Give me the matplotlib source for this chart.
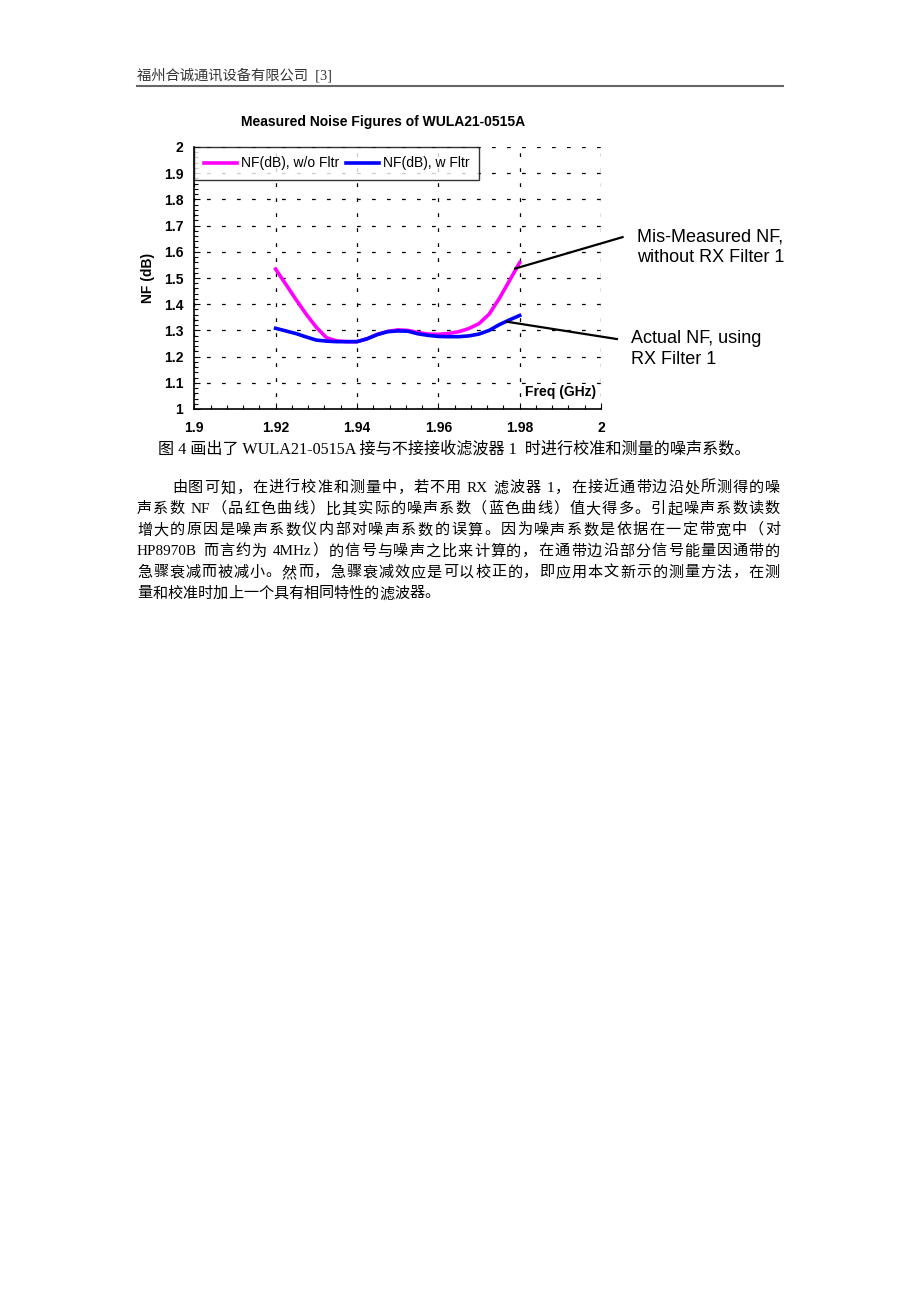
import re
import matplotlib
matplotlib.use("Agg")
import matplotlib.pyplot as plt
from matplotlib.lines import Line2D
from matplotlib.ticker import MultipleLocator

# dane
freq = [1.92, 1.9225, 1.925, 1.9275, 1.93, 1.9325, 1.935, 1.9375, 1.94, 1.9425, 1.945, 1.9475, 1.95,
        1.9525, 1.955, 1.9575, 1.96, 1.9625, 1.965, 1.9675, 1.97, 1.9725, 1.975, 1.9775, 1.98]
nf_bez_filtra = [1.534, 1.476, 1.418, 1.362, 1.312, 1.272, 1.260, 1.257, 1.257, 1.268, 1.285, 1.296, 1.302,
                 1.300, 1.292, 1.286, 1.285, 1.288, 1.295, 1.307, 1.326, 1.362, 1.422, 1.490, 1.559]
nf_z_filtrem = [1.308, 1.298, 1.288, 1.275, 1.263, 1.259, 1.257, 1.257, 1.257, 1.268, 1.284, 1.295, 1.298,
                1.297, 1.287, 1.281, 1.277, 1.276, 1.276, 1.279, 1.286, 1.300, 1.322, 1.340, 1.357]

tytul = "Measured Noise Figures of WULA21-0515A"
etykiety = ["NF(dB), w/o Fltr", "NF(dB), w Fltr"]
opis_1 = "Mis-Measured NF,\nwithout RX Filter 1"
opis_2 = "Actual NF, using\nRX Filter 1"
naglowek = "福州合诚通讯设备有限公司  [3]"
podpis = "图 4 画出了 WULA21-0515A 接与不接接收滤波器 1  时进行校准和测量的噪声系数。"
akapit = [
    "由图可知，在进行校准和测量中，若不用 RX 滤波器 1，在接近通带边沿处所测得的噪",
    "声系数 NF（品红色曲线）比其实际的噪声系数（蓝色曲线）值大得多。引起噪声系数读数",
    "增大的原因是噪声系数仪内部对噪声系数的误算。因为噪声系数是依据在一定带宽中（对",
    "HP8970B 而言约为 4MHz）的信号与噪声之比来计算的，在通带边沿部分信号能量因通带的",
    "急骤衰减而被减小。然而，急骤衰减效应是可以校正的，即应用本文新示的测量方法，在测",
    "量和校准时加上一个具有相同特性的滤波器。",
]

W, H = 920, 1302
fx = lambda px: px / W
fy = lambda py: 1 - py / H

plt.rcParams['font.family'] = ['Liberation Sans', 'DejaVu Sans']
fig = plt.figure(figsize=(9.2, 13.02), dpi=100)
fig.patch.set_facecolor('white')

ax = fig.add_axes([fx(194.3), fy(409), fx(601) - fx(194.3), fy(147) - fy(409)])
ax.plot(freq, nf_bez_filtra, color='#ff00ff', linewidth=2.6, label=etykiety[0], solid_joinstyle='round')
ax.plot(freq, nf_z_filtrem, color='#0000ff', linewidth=2.6, label=etykiety[1], solid_joinstyle='round')
ax.set_xlim(1.9, 2.0)
ax.set_ylim(1.0, 2.0)
ax.xaxis.set_minor_locator(MultipleLocator(0.004))
ax.yaxis.set_minor_locator(MultipleLocator(0.02))
ax.set_xticks([1.9, 1.92, 1.94, 1.96, 1.98, 2.0])
ax.set_xticklabels(['1.9', '1.92', '1.94', '1.96', '1.98', '2'])
ax.set_yticks([1.0 + 0.1 * i for i in range(11)])
ax.set_yticklabels(['1', '1.1', '1.2', '1.3', '1.4', '1.5', '1.6', '1.7', '1.8', '1.9', '2'])
ax.tick_params(which='both', direction='in', color='black', labelsize=10)
ax.tick_params(which='major', length=4, width=0.8)
ax.tick_params(which='minor', length=3, width=0.8)
ax.tick_params(axis='x', pad=9)
ax.tick_params(axis='y', pad=8)
for lab in ax.get_xticklabels() + ax.get_yticklabels():
    lab.set_fontweight('bold')
ax.grid(True, which='major', color='black', linewidth=0.9, linestyle=(2, (3, 9)))
for s in ['top', 'right']:
    ax.spines[s].set_visible(False)
for s in ['left', 'bottom']:
    ax.spines[s].set_linewidth(1.2)
ax.set_ylabel('NF (dB)', fontsize=10, fontweight='bold', labelpad=6)
ax.text(1.9989, 1.065, 'Freq (GHz)', ha='right', va='center', fontsize=10, fontweight='bold',
        bbox=dict(facecolor='white', edgecolor='none', pad=1))

leg = ax.legend(loc='upper left', bbox_to_anchor=(0, 1), ncol=2, frameon=True, fancybox=False,
                borderaxespad=0, fontsize=10.0, handlelength=2.4, handletextpad=0.3,
                columnspacing=0.45, borderpad=0.68)
leg.get_frame().set_edgecolor('black')
leg.get_frame().set_linewidth(1.0)

# linie opisu
ax.plot([1.9789, 2.0053], [1.536, 1.656], color='black', linewidth=1.6, clip_on=False)
ax.plot([1.9769, 2.0039], [1.333, 1.267], color='black', linewidth=1.6, clip_on=False)

fig.text(fx(383.5), fy(122), tytul, ha='center', va='center', fontsize=10, fontweight='bold')
fig.text(fx(637), fy(247.5), opis_1, ha='left', va='center', fontsize=13, linespacing=1.25)
fig.text(fx(631), fy(349), opis_2, ha='left', va='center', fontsize=13, linespacing=1.25)

# naglowek strony
cjk_serif = ['Liberation Serif', 'Noto Sans CJK SC']
fig.text(fx(137), fy(75), naglowek, ha='left', va='center', fontsize=10.3, color='#333333', family=cjk_serif)
fig.add_artist(Line2D([fx(137), fx(783)], [fy(86), fy(86)], color='#666666', linewidth=1.5,
                      transform=fig.transFigure))

fig.text(fx(454), fy(449), podpis, ha='center', va='center', fontsize=11.6, family=cjk_serif)

# akapit wyjustowany
renderer = fig.canvas.get_renderer()
fs = 10.9
for i, linia in enumerate(akapit):
    y = fy(488 + 21.2 * i)
    x0 = 172 if i == 0 else 137
    x1 = 780
    tokeny = re.findall(r'[A-Za-z0-9]+| |.', linia)
    teksty = []
    szer = []
    for t in tokeny:
        if t == ' ':
            teksty.append(None)
            szer.append(fs * 0.35)
            continue
        tt = fig.text(0, y, t, ha='left', va='center', fontsize=fs, family=cjk_serif)
        teksty.append(tt)
        szer.append(tt.get_window_extent(renderer).width)
    luz = 0
    if i < len(akapit) - 1 and len(tokeny) > 1:
        luz = (x1 - x0 - sum(szer)) / (len(tokeny) - 1)
    x = x0
    for tt, w in zip(teksty, szer):
        if tt is not None:
            tt.set_x(fx(x))
        x += w + luz

fig.savefig('out.png', dpi=100, facecolor='white')
